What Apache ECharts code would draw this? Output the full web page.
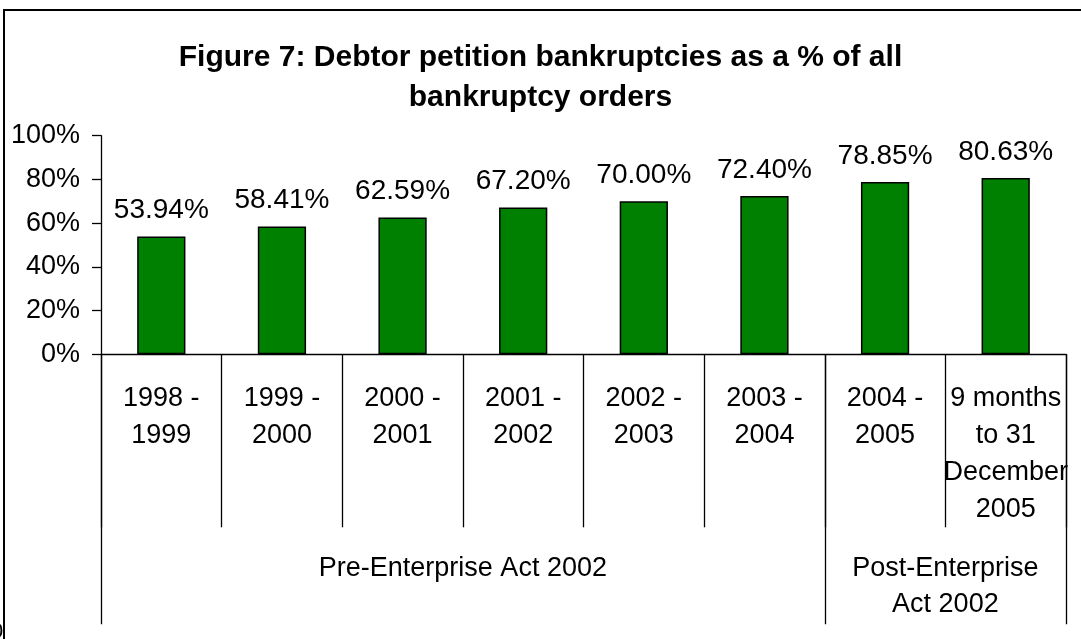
<!DOCTYPE html>
<html>
<head>
<meta charset="utf-8">
<script src="https://cdn.jsdelivr.net/npm/echarts@6/dist/echarts.min.js"></script>
<style>
html,body{margin:0;padding:0;background:#fff;}
#chart{width:1081px;height:639px;}
</style>
</head>
<body>
<div id="chart"></div>
<script>
const titleText = 'Figure 7: Debtor petition bankruptcies as a % of all\nbankruptcy orders';
const categories = ['1998 -\n1999', '1999 -\n2000', '2000 -\n2001', '2001 -\n2002', '2002 -\n2003', '2003 -\n2004', '2004 -\n2005', '9 months\nto 31\nDecember\n2005'];
const values = [53.94, 58.41, 62.59, 67.20, 70.00, 72.40, 78.85, 80.63];
const groupNames = ['Pre-Enterprise Act 2002', 'Post-Enterprise\nAct 2002'];
const groupBounds = [0, 6, 8];
const groupCenters = [3, 7];
const yTicks = [0, 20, 40, 60, 80, 100];

const FONT = "'Liberation Sans', Arial, sans-serif";
const chart = echarts.init(document.getElementById('chart'), null, {renderer: 'canvas'});
const gridRect = {left: 101, right: 15, top: 135.7, bottom: 284.7, containLabel: false, outerBoundsMode: 'none'};

chart.setOption({
  animation: false,
  backgroundColor: '#ffffff',
  textStyle: {fontFamily: FONT, color: '#000'},
  title: {
    text: titleText,
    left: 'center',
    top: 33,
    textStyle: {fontFamily: FONT, fontSize: 30, fontWeight: 'bold', color: '#000', lineHeight: 40}
  },
  graphic: [
    {type: 'polyline', shape: {points: [[4, 639], [4, 10], [1081, 10]]}, style: {stroke: '#000', lineWidth: 2, fill: null}, silent: true},
    {type: 'text', left: -9, top: 621, style: {text: '0', font: '22px ' + FONT, fill: '#000'}, silent: true}
  ],
  grid: [
    Object.assign({}, gridRect),
    Object.assign({}, gridRect)
  ],
  xAxis: [
    {
      type: 'category',
      gridIndex: 0,
      data: categories,
      boundaryGap: true,
      axisLine: {show: true, lineStyle: {color: '#000', width: 1.3}},
      axisTick: {show: true, interval: 0, alignWithLabel: false, length: 173, lineStyle: {color: '#000', width: 1.3}},
      axisLabel: {interval: 0, margin: 26, fontSize: 27, lineHeight: 37, color: '#000', fontFamily: FONT, align: 'center', hideOverlap: false},
      splitLine: {show: false}
    },
    {
      type: 'value',
      gridIndex: 1,
      min: 0,
      max: 8,
      axisLine: {show: false},
      axisTick: {show: true, customValues: groupBounds, length: 270, lineStyle: {color: '#000', width: 1.3}},
      axisLabel: {
        show: true,
        customValues: groupCenters,
        formatter: function (v) { return groupNames[groupCenters.indexOf(v)] || ''; },
        margin: 196,
        fontSize: 27,
        lineHeight: 36,
        color: '#000',
        fontFamily: FONT,
        hideOverlap: false
      },
      splitLine: {show: false}
    }
  ],
  yAxis: [
    {
      type: 'value',
      gridIndex: 0,
      min: 0,
      max: 100,
      interval: 20,
      axisLine: {show: true, lineStyle: {color: '#000', width: 1.3}},
      axisTick: {show: true, length: 9, lineStyle: {color: '#000', width: 1.3}},
      axisLabel: {formatter: '{value}%', fontSize: 27, margin: 21, color: '#000', fontFamily: FONT},
      splitLine: {show: false}
    },
    {
      type: 'value',
      gridIndex: 1,
      min: 0,
      max: 100,
      show: false
    }
  ],
  series: [
    {
      type: 'bar',
      xAxisIndex: 0,
      yAxisIndex: 0,
      data: values,
      barWidth: '40%',
      itemStyle: {color: '#008000', borderColor: '#000', borderWidth: 1.5},
      label: {
        show: true,
        position: 'top',
        distance: 12,
        fontSize: 28,
        color: '#000',
        fontFamily: FONT,
        formatter: function (p) { return p.value.toFixed(2) + '%'; }
      }
    }
  ]
});
</script>
</body>
</html>
